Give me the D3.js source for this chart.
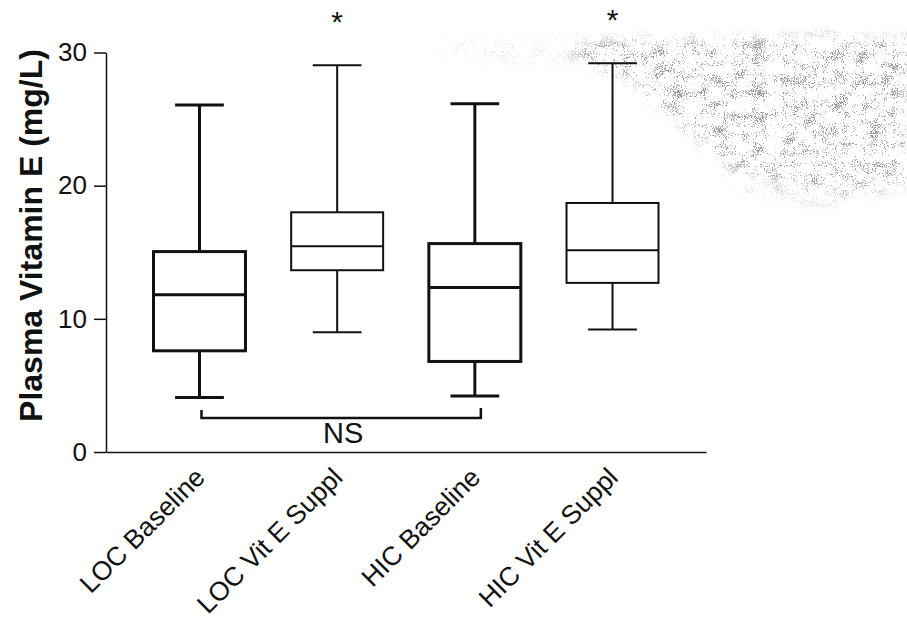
<!DOCTYPE html>
<html>
<head>
<meta charset="utf-8">
<script src="https://cdn.jsdelivr.net/npm/d3@7"></script>
<style>
  html, body { margin: 0; padding: 0; background: #fff; }
  svg { display: block; }
  text { font-family: "Liberation Sans", Arial, Helvetica, sans-serif; fill: #111; }
</style>
</head>
<body>
<svg id="chart" width="907" height="622"></svg>
<script>
// Box-plot summaries of plasma vitamin E (mg/L) per group
const categories   = ["LOC Baseline", "LOC Vit E Suppl", "HIC Baseline", "HIC Vit E Suppl"];
const whiskerLow   = [4.1, 9.0, 4.2, 9.2];
const quartile1    = [7.6, 13.65, 6.8, 12.7];
const medians      = [11.8, 15.45, 12.35, 15.15];
const quartile3    = [15.05, 18.0, 15.65, 18.7];
const whiskerHigh  = [26.05, 29.05, 26.15, 29.2];
const significance = ["", "*", "", "*"];
const yTicks       = [0, 10, 20, 30];

// Non-significant comparison between the two baseline groups
const bracketPair  = ["LOC Baseline", "HIC Baseline"];
const bracketLabel = "NS";
const bracketLevel = [2.55];

const svg = d3.select("#chart");
const W = 907, H = 622;
const axisX = 106, axisRight = 706, axisBottom = 452, axisTop = 52.5;

const y = d3.scaleLinear().domain([0, 30]).range([axisBottom, axisTop]);
const x = d3.scaleBand().domain(categories).range([axisX, axisRight])
  .paddingInner(0.332).paddingOuter(0.345);

// Fine grey speckle in the upper right of the sheet
const defs = svg.append("defs");
const grain = defs.append("filter").attr("id", "grain")
  .attr("filterUnits", "userSpaceOnUse")
  .attr("x", 0).attr("y", 0).attr("width", W).attr("height", H)
  .attr("color-interpolation-filters", "sRGB");
grain.append("feTurbulence").attr("type", "fractalNoise").attr("baseFrequency", 0.9)
  .attr("numOctaves", 1).attr("seed", 4).attr("result", "fine");
grain.append("feColorMatrix").attr("in", "fine").attr("type", "matrix")
  .attr("values", "1 0 0 0 0  0 1 0 0 0  0 0 1 0 0  0 0 0 0 1").attr("result", "fineOpaque");
grain.append("feTurbulence").attr("type", "fractalNoise").attr("baseFrequency", "0.06 0.08")
  .attr("numOctaves", 2).attr("seed", 11).attr("result", "coarse");
grain.append("feColorMatrix").attr("in", "coarse").attr("type", "matrix")
  .attr("values", "1 0 0 0 0  0 1 0 0 0  0 0 1 0 0  0 0 0 0 1").attr("result", "coarseOpaque");
grain.append("feComposite").attr("in", "fineOpaque").attr("in2", "coarseOpaque")
  .attr("operator", "arithmetic").attr("k1", 0).attr("k2", 0.8).attr("k3", 0.45).attr("k4", -0.125)
  .attr("result", "mix");
grain.append("feColorMatrix").attr("in", "mix").attr("type", "matrix")
  .attr("values", "0 0 0 0 0.6  0 0 0 0 0.6  0 0 0 0 0.6  16 0 0 0 -9.35");

const soft = defs.append("filter").attr("id", "soft")
  .attr("filterUnits", "userSpaceOnUse")
  .attr("x", 0).attr("y", 0).attr("width", W).attr("height", H);
soft.append("feGaussianBlur").attr("stdDeviation", 7);

const hazeMask = defs.append("mask").attr("id", "hazeMask")
  .attr("maskUnits", "userSpaceOnUse")
  .attr("x", 0).attr("y", 0).attr("width", W).attr("height", H);
const hazeGroup = hazeMask.append("g").attr("filter", "url(#soft)");
hazeGroup.append("path")
  .attr("d", "M570,40 L907,36 L907,185 L860,195 L790,180 L720,160 L675,120 L630,82 L585,62 Z")
  .attr("fill", "#fff");
hazeGroup.append("path")
  .attr("d", "M720,160 L860,195 L820,205 L740,190 Z")
  .attr("fill", "#888");
hazeGroup.append("path")
  .attr("d", "M440,42 L570,40 L580,62 L500,62 L440,52 Z")
  .attr("fill", "#444");

svg.append("rect")
  .attr("x", 0).attr("y", 0).attr("width", W).attr("height", H)
  .attr("filter", "url(#grain)")
  .attr("mask", "url(#hazeMask)");

// Axes
const yAxis = d3.axisLeft(y).tickValues(yTicks).tickSize(12).tickSizeOuter(0).tickPadding(7);
const gy = svg.append("g").attr("transform", `translate(${axisX},0)`).call(yAxis);
gy.selectAll("path, line").attr("stroke", "#111").attr("stroke-width", 1.5);
gy.selectAll("text").style("font-size", "26px").attr("fill", "#111");

const xAxis = d3.axisBottom(x).tickSize(0).tickSizeOuter(0);
const gx = svg.append("g").attr("transform", `translate(0,${axisBottom})`).call(xAxis);
gx.select(".domain").attr("stroke", "#111").attr("stroke-width", 1.5);
gx.selectAll("text")
  .style("font-size", "26.5px")
  .attr("fill", "#111")
  .attr("x", 0).attr("y", 0).attr("dy", 0)
  .attr("text-anchor", "end")
  .attr("transform", "translate(7,27) rotate(-45)");

// Y-axis title
svg.append("text")
  .attr("transform", `translate(42,${(48 + 423) / 2}) rotate(-90)`)
  .attr("text-anchor", "middle")
  .style("font-size", "32px")
  .style("font-weight", "bold")
  .text("Plasma Vitamin E (mg/L)");

// Boxes and whiskers
const strokeFor = i => (i % 2 === 0 ? 3 : 2);
const capWidth = x.bandwidth() * 0.53;

const boxes = svg.append("g").selectAll("g")
  .data(categories.map((c, i) => ({
    c, i,
    lo: whiskerLow[i], q1: quartile1[i], med: medians[i], q3: quartile3[i], hi: whiskerHigh[i],
    sig: significance[i]
  })))
  .join("g")
  .attr("stroke", "#111")
  .attr("fill", "none")
  .attr("stroke-width", d => strokeFor(d.i));

const cx = d => x(d.c) + x.bandwidth() / 2;

boxes.append("line") // lower whisker
  .attr("x1", cx).attr("x2", cx)
  .attr("y1", d => y(d.lo)).attr("y2", d => y(d.q1));
boxes.append("line") // upper whisker
  .attr("x1", cx).attr("x2", cx)
  .attr("y1", d => y(d.q3)).attr("y2", d => y(d.hi));
boxes.append("line") // lower cap
  .attr("x1", d => cx(d) - capWidth / 2).attr("x2", d => cx(d) + capWidth / 2)
  .attr("y1", d => y(d.lo)).attr("y2", d => y(d.lo));
boxes.append("line") // upper cap
  .attr("x1", d => cx(d) - capWidth / 2).attr("x2", d => cx(d) + capWidth / 2)
  .attr("y1", d => y(d.hi)).attr("y2", d => y(d.hi));
boxes.append("rect")
  .attr("x", d => x(d.c)).attr("width", x.bandwidth())
  .attr("y", d => y(d.q3)).attr("height", d => y(d.q1) - y(d.q3))
  .attr("fill", "#fff");
boxes.append("line") // median
  .attr("x1", d => x(d.c)).attr("x2", d => x(d.c) + x.bandwidth())
  .attr("y1", d => y(d.med)).attr("y2", d => y(d.med));

// Significance markers
boxes.filter(d => d.sig)
  .append("text")
  .attr("stroke", "none")
  .attr("fill", "#111")
  .attr("x", cx)
  .attr("y", d => y(d.hi) - 33)
  .attr("text-anchor", "middle")
  .style("font-size", "30px")
  .text(d => d.sig);

// NS comparison bracket
const bx0 = x(bracketPair[0]) + x.bandwidth() / 2;
const bx1 = x(bracketPair[1]) + x.bandwidth() / 2;
const by = y(bracketLevel[0]);
svg.append("path")
  .attr("d", d3.line()([[bx0 + 2, by - 8], [bx0 + 2, by], [bx1 + 6, by], [bx1 + 6, by - 10]]))
  .attr("fill", "none")
  .attr("stroke", "#111")
  .attr("stroke-width", 2.5);
svg.append("text")
  .attr("x", (bx0 + bx1) / 2 + 6)
  .attr("y", by + 25)
  .attr("text-anchor", "middle")
  .style("font-size", "29px")
  .text(bracketLabel);
</script>
</body>
</html>
